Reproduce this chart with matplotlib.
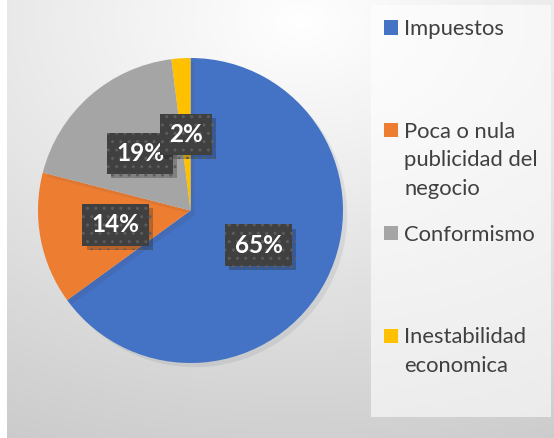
import matplotlib.pyplot as plt
import matplotlib.patheffects as pe
from matplotlib.patches import Rectangle
import numpy as np

plt.rcParams['font.family'] = ['Lato', 'DejaVu Sans']

# Datos
categorias = ['Impuestos', 'Poca o nula\npublicidad del\nnegocio', 'Conformismo',
              'Inestabilidad\neconomica']
porcentajes = [65, 14, 19, 2]
colores = ['#4472C4', '#ED7D31', '#A5A5A5', '#FFC000']

W, H = 554, 438
fig = plt.figure(figsize=(W / 100, H / 100), dpi=100)
fig.patch.set_facecolor('white')

# Fondo con degradado radial (estilo Excel)
bg = fig.add_axes([7 / W, 0, (W - 7) / W, 1], zorder=-5)
xx, yy = np.meshgrid(np.arange(7, W), np.arange(H))
d = np.sqrt(((xx - 300) / 674.0) ** 2 + ((yy - 20) / 455.0) ** 2)
val = np.clip(1 - 0.2 * d, 0, 1)
bg.imshow(np.dstack([val, val, val]), aspect='auto', interpolation='bilinear')
bg.axis('off')

# Caja de la leyenda
fig.patches.append(Rectangle((371 / W, 21 / H), 180 / W, 412 / H,
                             transform=fig.transFigure, facecolor='white',
                             alpha=0.6, edgecolor='none', zorder=-1))

# Pastel
ax = fig.add_axes([38 / W, 75 / H, 305 / W, 305 / H])
wedges, _, autotexts = ax.pie(porcentajes, colors=colores, startangle=90,
                              counterclock=False, autopct='%1.0f%%',
                              pctdistance=0.5, radius=1,
                              textprops=dict(color='white', fontsize=17.5,
                                             fontweight='bold'))
ax.set_aspect('auto')
ax.set_xlim(-1, 1)
ax.set_ylim(-1, 1)

for w in wedges:
    w.set_path_effects([pe.SimplePatchShadow(offset=(3, -3), alpha=0.08),
                        pe.Normal()])

for t in autotexts:
    t.set_bbox(dict(boxstyle='square,pad=0.38', facecolor='#404040',
                    edgecolor='#5c5c5c', linewidth=0, hatch='..'))
    t.get_bbox_patch().set_path_effects([
        pe.SimplePatchShadow(offset=(3, -3), alpha=0.25), pe.Normal()])

# Leyenda manual
paso = 102.8
interlinea = 28.5
for i, (cat, col) in enumerate(zip(categorias, colores)):
    cy = 27.5 + i * paso
    fig.patches.append(Rectangle((384 / W, 1 - (cy + 7) / H), 14 / W, 14 / H,
                                 transform=fig.transFigure, facecolor=col,
                                 edgecolor='none'))
    for j, linea in enumerate(cat.split('\n')):
        base = cy + 7.5 + j * interlinea
        fig.text(404 / W, 1 - base / H, linea, fontsize=15.8, color='#404040',
                 va='baseline', ha='left')

fig.savefig('out.png', dpi=100)
